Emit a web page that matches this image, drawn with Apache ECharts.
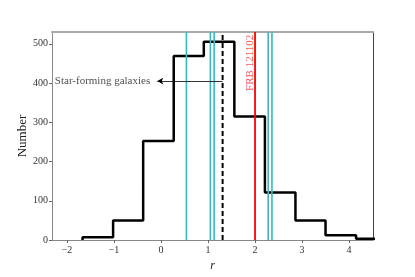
<!DOCTYPE html>
<html><head><meta charset="utf-8">
<script src="https://cdn.jsdelivr.net/npm/echarts@6/dist/echarts.min.js"></script>
<style>html,body{margin:0;padding:0;background:#fff}#c{width:415px;height:277px}</style>
</head><body><div id="c"></div>
<script>
var binEdges = [-1.67, -1.02, -0.38, 0.27, 0.91, 1.56, 2.21, 2.86, 3.50, 4.15, 4.80];
var binCounts = [7, 50, 252, 469, 505, 315, 121, 50, 12, 3];
var cyanLines = [0.54, 1.05, 1.13, 2.28, 2.36];
var dashedLine = 1.31;
var frbLine = 2.0;
var xTicks = [-2, -1, 0, 1, 2, 3, 4];
var yTicks = [0, 100, 200, 300, 400, 500];
var arrowY = 405, arrowTipX = -0.08;

var font = '"Liberation Serif", "DejaVu Serif", serif';
var histData = [[binEdges[0], 0]];
for (var i = 0; i < binCounts.length; i++) histData.push([binEdges[i], binCounts[i]]);
histData.push([binEdges[binEdges.length - 1], binCounts[binCounts.length - 1]]);
histData.push([binEdges[binEdges.length - 1], 0]);

var series = [{
  type: 'line', step: 'end', data: histData, symbol: 'none', clip: true,
  lineStyle: {color: '#000', width: 2.5}, z: 2
}];
cyanLines.forEach(function (x) {
  series.push({type: 'line', data: [[x, 0], [x, 530]], symbol: 'none',
    lineStyle: {color: '#3ab6c7', width: 1.6}, z: 3});
});
series.push({type: 'line', data: [[dashedLine, 0], [dashedLine, 530]], symbol: 'none',
  lineStyle: {color: '#000', width: 2, type: [5, 3]}, z: 3,
  markLine: {silent: true, symbol: ['none', 'arrow'], symbolSize: [5, 6],
    lineStyle: {color: '#000', width: 0.8, type: 'solid'},
    itemStyle: {color: '#1a2a4a'},
    label: {show: false},
    data: [[{coord: [dashedLine, arrowY]}, {coord: [arrowTipX, arrowY]}]]}
});
series.push({type: 'line', data: [[frbLine, 0], [frbLine, 530]], symbol: 'none',
  lineStyle: {color: '#ff0000', width: 1.8}, z: 3});
series.push({type: 'scatter', symbolSize: 0, z: 4, data: [[-2.26, arrowY]],
  label: {show: true, position: 'right', distance: 0, formatter: 'Star-forming galaxies',
    color: '#222', fontFamily: font, fontSize: 11}});
series.push({type: 'scatter', symbolSize: 0, z: 4, data: [[frbLine - 0.11, 523]],
  label: {show: true, position: 'inside', rotate: 90, align: 'right', verticalAlign: 'middle',
    formatter: 'FRB 121102', color: '#ff2a2a', fontFamily: font, fontSize: 11}});

var chart = echarts.init(document.getElementById('c'));
chart.setOption({
  animation: false,
  grid: {left: 52, right: 42, top: 32, bottom: 35},
  xAxis: [{
    type: 'value', min: -2.32, max: 4.51, position: 'bottom',
    name: 'r', nameLocation: 'middle', nameGap: 20, nameMoveOverlap: false,
    nameTextStyle: {fontFamily: font, fontStyle: 'italic', fontSize: 12, color: '#222'},
    axisLine: {onZero: false, lineStyle: {color: '#888', width: 1}},
    axisTick: {show: true, length: 3, customValues: xTicks, lineStyle: {color: '#666'}},
    axisLabel: {customValues: xTicks, fontFamily: font, fontSize: 10, color: '#333', margin: 5,
      formatter: function (v) { return v < 0 ? '\u2212' + (-v) : '' + v; }},
    splitLine: {show: false}
  }, {
    type: 'value', min: -2.32, max: 4.51, position: 'top',
    axisLine: {show: true, onZero: false, lineStyle: {color: '#aaa', width: 2}},
    axisTick: {show: false}, axisLabel: {show: false}, splitLine: {show: false}
  }],
  yAxis: [{
    type: 'value', min: 0, max: 530, position: 'left',
    name: 'Number', nameLocation: 'middle', nameGap: 29, nameRotate: 90, nameMoveOverlap: false,
    nameTextStyle: {fontFamily: font, fontSize: 13, color: '#222', verticalAlign: 'middle'},
    axisLine: {show: true, onZero: false, lineStyle: {color: '#888', width: 1}},
    axisTick: {show: true, length: 3, customValues: yTicks, lineStyle: {color: '#666'}},
    axisLabel: {customValues: yTicks, fontFamily: font, fontSize: 10, color: '#333', margin: 4},
    splitLine: {show: false}
  }, {
    type: 'value', min: 0, max: 530, position: 'right',
    axisLine: {show: true, onZero: false, lineStyle: {color: '#444', width: 1}},
    axisTick: {show: false}, axisLabel: {show: false}, splitLine: {show: false}
  }],
  series: series
});
</script></body></html>
